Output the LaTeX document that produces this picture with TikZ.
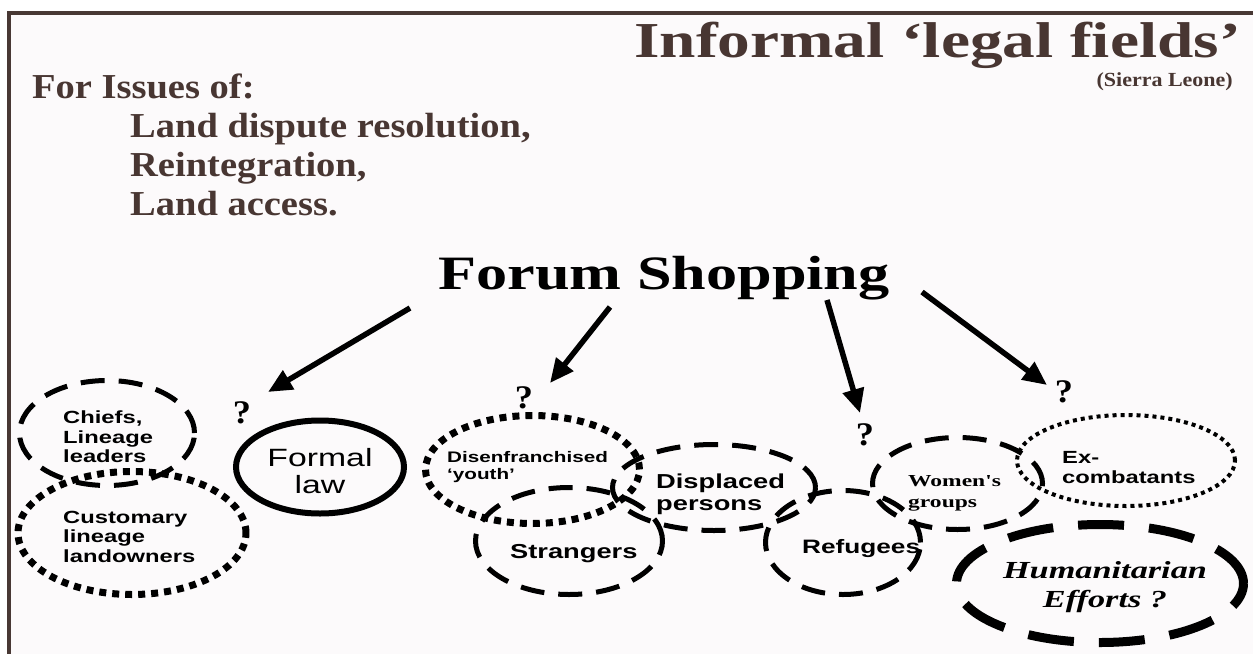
\documentclass[tikz,border=0pt]{standalone}
\usepackage{fontspec}
\usetikzlibrary{shapes.geometric,arrows.meta}
\newfontfamily\serifT[FakeStretch=1.3]{Liberation Serif}
\newfontfamily\serifW[FakeStretch=1.4]{Liberation Serif}
\newfontfamily\serifQ[FakeStretch=1.4,Ligatures=TeXOff]{Liberation Serif}
\newfontfamily\serifN[FakeStretch=1.1]{Liberation Serif}
\newfontfamily\sansW[FakeStretch=1.35]{Liberation Sans}
\newcommand\fsz[1]{\fontsize{#1}{#1}\selectfont}
\definecolor{framebrown}{RGB}{72,56,52}
\definecolor{textbrown}{RGB}{72,54,50}
\definecolor{bgpink}{RGB}{252,250,251}
\begin{document}
\begin{tikzpicture}[x=1pt,y=-1pt,
  oval/.style={ellipse, draw=black, inner sep=0pt, outer sep=0pt},
  dashA/.style={oval, line width=5pt, dash pattern=on 24pt off 14pt},
  dotsq/.style={oval, line width=7pt, dash pattern=on 7pt off 6pt},
  dotfine/.style={oval, line width=4pt, dash pattern=on 4pt off 4pt},
  dashB/.style={oval, line width=9pt, dash pattern=on 46pt off 25pt},
  solidE/.style={oval, line width=6pt},
  bigarrow/.style={line width=5.5pt, -{Triangle[length=24pt,width=21pt]}},
  head/.style={text=textbrown, inner sep=0pt},
  lbl/.style={inner sep=0pt, anchor=base west},
  qm/.style={inner sep=0pt, anchor=base, font=\serifN\bfseries\fsz{33}}]
\useasboundingbox (0,0) rectangle (1253,654);
\fill[bgpink] (9,13) rectangle (1253,654);
\draw[framebrown, line width=3.5pt] (1253,13) -- (9,13) -- (9,654);

% headings
\node[head, anchor=base east, font=\serifT\bfseries\fsz{50.3}] (title) at (1241,57) {Informal ‘legal fields’};
\node[head, anchor=base east, font=\serifN\bfseries\fsz{20}] (sierra) at (1233,86) {(Sierra Leone)};
\node[head, anchor=base west, font=\serifN\bfseries\fsz{35}] (issues) at (32,98) {For Issues of:};
\node[head, anchor=base west, font=\serifN\bfseries\fsz{35}] (land) at (130,137) {Land dispute resolution,};
\node[head, anchor=base west, font=\serifN\bfseries\fsz{35}] (reint) at (130,176) {Reintegration,};
\node[head, anchor=base west, font=\serifN\bfseries\fsz{35}] (access) at (130,215) {Land access.};
\node[inner sep=0pt, anchor=base west, font=\serifT\bfseries\fsz{47.9}] (forum) at (438,289) {Forum Shopping};

% arrows
\coordinate (a1s) at (410,308); \coordinate (a1e) at (268,392);
\coordinate (a2s) at (610,307); \coordinate (a2e) at (550,383);
\coordinate (a3s) at (827,300); \coordinate (a3e) at (860,413);
\coordinate (a4s) at (922,292); \coordinate (a4e) at (1047,385);
\draw[bigarrow] (a1s) -- (a1e);
\draw[bigarrow] (a2s) -- (a2e);
\draw[bigarrow] (a3s) -- (a3e);
\draw[bigarrow] (a4s) -- (a4e);

% question marks
\node[qm] (q1) at (242,423) {?};
\node[qm] (q2) at (524,408) {?};
\node[qm] (q3) at (865,445) {?};
\node[qm] (q4) at (1064,402) {?};

% ellipses
\node[dashA, minimum width=175pt, minimum height=105pt] (chiefs) at (107,433) {};
\node[dotsq, minimum width=228pt, minimum height=123pt] (customary) at (132,533) {};
\node[solidE, minimum width=168pt, minimum height=93pt] (formal) at (320,467) {};
\node[dotsq, minimum width=214pt, minimum height=108pt] (youth) at (532.5,469.5) {};
\node[dashA, minimum width=203pt, minimum height=86pt] (displaced) at (714,487.5) {};
\node[dashA, minimum width=187pt, minimum height=107pt] (strangers) at (569,541) {};
\node[dashA, minimum width=155pt, minimum height=104pt] (refugees) at (843,542.5) {};
\node[dashA, minimum width=170pt, minimum height=92pt] (women) at (957.5,483.5) {};
\node[dotfine, minimum width=218pt, minimum height=91pt] (excomb) at (1126,460.5) {};
\node[dashB, minimum width=287pt, minimum height=118pt] (human) at (1100,583.5) {};

% ellipse labels
\begin{scope}[every node/.append style={lbl, font=\sansW\bfseries\fsz{17.6}}]
\node (chiefs1) at (63,423) {Chiefs,};
\node (chiefs2) at (63,443) {Lineage};
\node (chiefs3) at (63,462) {leaders};
\node (cust1) at (63,523) {Customary};
\node (cust2) at (63,542) {lineage};
\node (cust3) at (63,562) {landowners};
\node (ex1) at (1062,463) {Ex-};
\node (ex2) at (1062,483) {combatants};
\end{scope}
\node[inner sep=0pt, anchor=base, font=\sansW\fsz{25}] (formal1) at (320,466) {Formal};
\node[inner sep=0pt, anchor=base, font=\sansW\fsz{25}] (formal2) at (320,493) {law};
\node[lbl, font=\sansW\bfseries\fsz{15.3}] (youth1) at (447,462) {Disenfranchised};
\node[lbl, font=\sansW\bfseries\fsz{15.3}] (youth2) at (447,479) {‘youth’};
\node[lbl, font=\sansW\bfseries\fsz{20.2}] (disp1) at (656,488) {Displaced};
\node[lbl, font=\sansW\bfseries\fsz{20.2}] (disp2) at (656,510) {persons};
\node[lbl, font=\sansW\bfseries\fsz{20.2}] (strang) at (510,558) {Strangers};
\node[lbl, font=\sansW\bfseries\fsz{19.4}] (refug) at (802,553) {Refugees};
\node[lbl, font=\serifQ\bfseries\fsz{16.8}] (women1) at (908,486) {Women's};
\node[lbl, font=\serifW\bfseries\fsz{16.8}] (women2) at (908,507) {groups};
\node[inner sep=0pt, anchor=base, font=\serifW\bfseries\itshape\fsz{24.5}] (hum1) at (1105,578) {Humanitarian};
\node[inner sep=0pt, anchor=base, font=\serifW\bfseries\itshape\fsz{24.5}] (hum2) at (1105,607) {Efforts ?};
\end{tikzpicture}
\end{document}
